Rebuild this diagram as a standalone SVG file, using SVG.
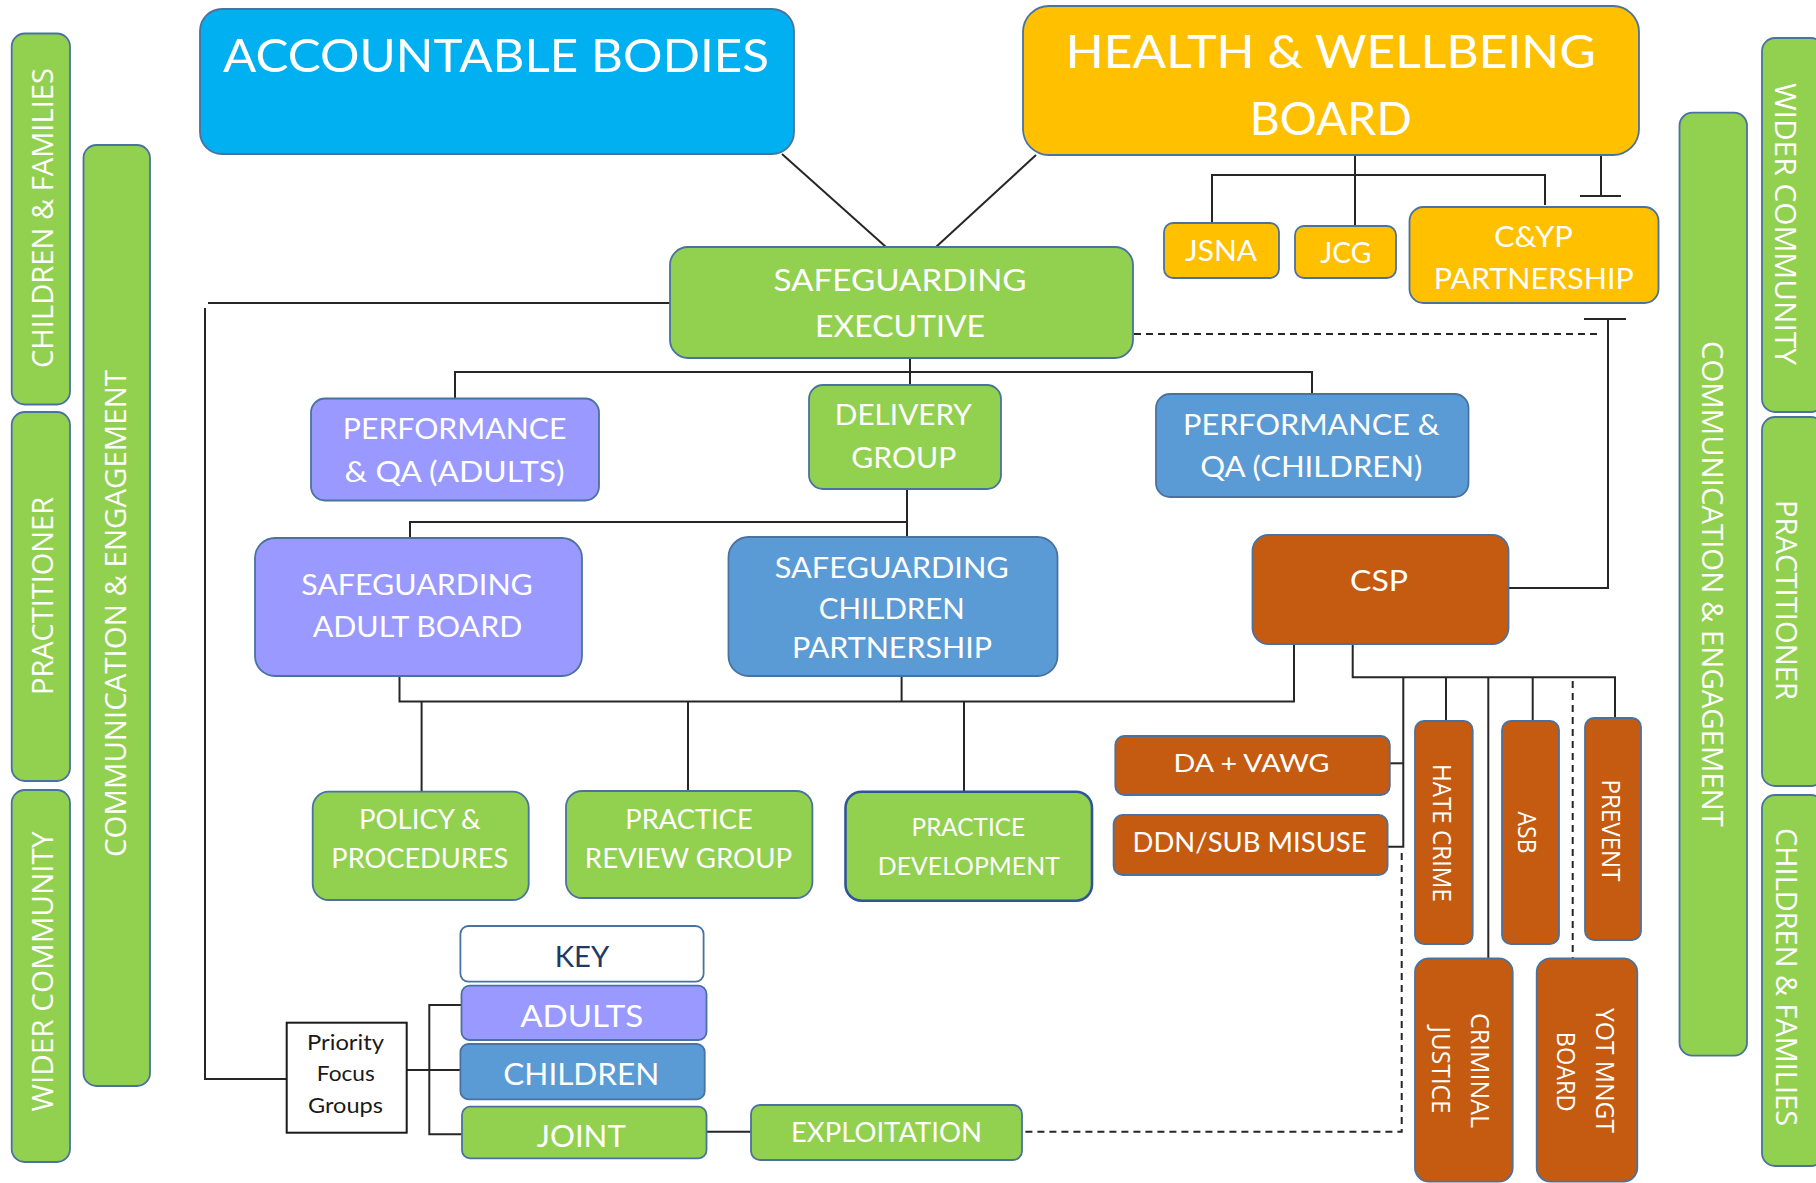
<svg xmlns="http://www.w3.org/2000/svg" width="1816" height="1183" viewBox="0 0 1816 1183">
<defs>
<style>
.box{stroke:#4a72a0;stroke-width:1.8}
.g{fill:#92D050}
.b{fill:#5B9BD5}
.p{fill:#9999FF}
.o{fill:#C55A11}
.y{fill:#FFC000}
.c{fill:#00B0F0}
.w{fill:#FFFFFF}
.t{font-family:Lato,"Liberation Sans",sans-serif;fill:#FFFFFF;text-anchor:middle}
.v{font-family:"Open Sans","DejaVu Sans",sans-serif;fill:#FFFFFF;text-anchor:middle}
.ln{stroke:#262626;stroke-width:2;fill:none}
.dash{stroke-dasharray:7 5}
</style>
</defs>
<rect width="1816" height="1183" fill="#FFFFFF"/>

<g id="connectors">
  <line class="ln" x1="782" y1="154" x2="886" y2="247"/>
  <line class="ln" x1="1036" y1="155" x2="936" y2="247"/>
  <line class="ln" x1="1355" y1="155" x2="1355" y2="226"/>
  <polyline class="ln" points="1212,223 1212,175 1545,175 1545,205"/>
  <line class="ln" x1="1601" y1="156" x2="1601" y2="196"/>
  <line class="ln" x1="1580" y1="196" x2="1621" y2="196"/>
  <line class="ln" x1="1584" y1="319" x2="1626" y2="319"/>
  <polyline class="ln" points="1608,319 1608,588 1509,588"/>
  <line class="ln dash" x1="1134" y1="334" x2="1598" y2="334"/>
  <line class="ln" x1="670" y1="303" x2="208" y2="303"/>
  <polyline class="ln" points="205,308 205,1079 287,1079"/>
  <line class="ln" x1="910" y1="358" x2="910" y2="385"/>
  <polyline class="ln" points="455,399 455,372 1312,372 1312,394"/>
  <line class="ln" x1="907" y1="489" x2="907" y2="537"/>
  <polyline class="ln" points="410,538 410,522 907,522"/>
  <polyline class="ln" points="399.5,676 399.5,701.5 1294,701.5 1294,644"/>
  <line class="ln" x1="901.6" y1="676" x2="901.6" y2="701.5"/>
  <line class="ln" x1="421.6" y1="701.5" x2="421.6" y2="792"/>
  <line class="ln" x1="688" y1="701.5" x2="688" y2="791"/>
  <line class="ln" x1="964" y1="701.5" x2="964" y2="792"/>
  <polyline class="ln" points="1352.7,644 1352.7,677.3 1615,677.3 1615,719"/>
  <polyline class="ln" points="1403.3,677.3 1403.3,846.7 1388,846.7"/>
  <line class="ln" x1="1390" y1="763.3" x2="1403.3" y2="763.3"/>
  <line class="ln" x1="1446" y1="677.3" x2="1446" y2="721"/>
  <line class="ln" x1="1488.3" y1="677.3" x2="1488.3" y2="958.3"/>
  <line class="ln" x1="1532.7" y1="677.3" x2="1532.7" y2="721"/>
  <line class="ln dash" x1="1572.7" y1="681" x2="1572.7" y2="958.3"/>
  <polyline class="ln dash" points="1401.7,853 1401.7,1131.7 1022,1131.7"/>
  <line class="ln" x1="406.7" y1="1070" x2="460" y2="1070"/>
  <polyline class="ln" points="461.5,1005 429.3,1005 429.3,1134.3 462,1134.3"/>
  <line class="ln" x1="706.5" y1="1131.7" x2="751" y2="1131.7"/>
</g>

<g id="bar-left-children-families">
  <rect class="box g" x="11.7" y="33.5" width="58.3" height="371" rx="13"/>
  <text class="v" font-size="29" textLength="300" lengthAdjust="spacingAndGlyphs" transform="translate(53.3,218) rotate(-90)">CHILDREN &amp; FAMILIES</text>
</g>
<g id="bar-left-practitioner">
  <rect class="box g" x="11.7" y="412" width="58.3" height="369" rx="13"/>
  <text class="v" font-size="29" textLength="198" lengthAdjust="spacingAndGlyphs" transform="translate(53.3,596) rotate(-90)">PRACTITIONER</text>
</g>
<g id="bar-left-wider-community">
  <rect class="box g" x="11.7" y="790" width="58.3" height="372" rx="13"/>
  <text class="v" font-size="29" textLength="280" lengthAdjust="spacingAndGlyphs" transform="translate(53.3,971.5) rotate(-90)">WIDER COMMUNITY</text>
</g>
<g id="bar-left-communication">
  <rect class="box g" x="83.5" y="145" width="66.5" height="941" rx="13"/>
  <text class="v" font-size="29" textLength="487" lengthAdjust="spacingAndGlyphs" transform="translate(126,613.5) rotate(-90)">COMMUNICATION &amp; ENGAGEMENT</text>
</g>
<g id="bar-right-communication">
  <rect class="box g" x="1679.5" y="112.7" width="67.5" height="943" rx="13"/>
  <text class="v" font-size="29" textLength="486" lengthAdjust="spacingAndGlyphs" transform="translate(1701.7,584) rotate(90)">COMMUNICATION &amp; ENGAGEMENT</text>
</g>
<g id="bar-right-wider-community">
  <rect class="box g" x="1762" y="38" width="62" height="374" rx="13"/>
  <text class="v" font-size="29" textLength="282" lengthAdjust="spacingAndGlyphs" transform="translate(1775,224) rotate(90)">WIDER COMMUNITY</text>
</g>
<g id="bar-right-practitioner">
  <rect class="box g" x="1762" y="417" width="62" height="369" rx="13"/>
  <text class="v" font-size="29" textLength="200" lengthAdjust="spacingAndGlyphs" transform="translate(1776,600) rotate(90)">PRACTITIONER</text>
</g>
<g id="bar-right-children-families">
  <rect class="box g" x="1762" y="795" width="62" height="371" rx="13"/>
  <text class="v" font-size="29" textLength="298" lengthAdjust="spacingAndGlyphs" transform="translate(1776,977) rotate(90)">CHILDREN &amp; FAMILIES</text>
</g>

<g id="accountable-bodies">
  <rect class="box c" x="200" y="9" width="594" height="145" rx="22"/>
  <text class="t" x="496" y="72" font-size="47" textLength="546" lengthAdjust="spacingAndGlyphs">ACCOUNTABLE BODIES</text>
</g>
<g id="health-wellbeing-board">
  <rect class="box y" x="1023" y="6" width="616" height="149" rx="26"/>
  <text class="t" x="1330.8" y="68" font-size="46" textLength="530" lengthAdjust="spacingAndGlyphs">HEALTH &amp; WELLBEING</text>
  <text class="t" x="1330.7" y="135" font-size="46" textLength="162" lengthAdjust="spacingAndGlyphs">BOARD</text>
</g>
<g id="jsna">
  <rect class="box y" x="1164" y="223" width="115" height="55" rx="9"/>
  <text class="t" x="1221" y="261" font-size="28" textLength="72" lengthAdjust="spacingAndGlyphs">JSNA</text>
</g>
<g id="jcg">
  <rect class="box y" x="1295" y="226" width="101" height="52" rx="9"/>
  <text class="t" x="1345.8" y="263" font-size="28" textLength="51" lengthAdjust="spacingAndGlyphs">JCG</text>
</g>
<g id="cyp-partnership">
  <rect class="box y" x="1409.5" y="207" width="249" height="96" rx="14"/>
  <text class="t" x="1533.4" y="247" font-size="28" textLength="79" lengthAdjust="spacingAndGlyphs">C&amp;YP</text>
  <text class="t" x="1533.7" y="289" font-size="28" textLength="200" lengthAdjust="spacingAndGlyphs">PARTNERSHIP</text>
</g>
<g id="safeguarding-executive">
  <rect class="box g" x="670" y="247" width="463" height="111" rx="18"/>
  <text class="t" x="900" y="290.7" font-size="30" textLength="253" lengthAdjust="spacingAndGlyphs">SAFEGUARDING</text>
  <text class="t" x="900" y="336.7" font-size="30" textLength="170" lengthAdjust="spacingAndGlyphs">EXECUTIVE</text>
</g>
<g id="performance-qa-adults">
  <rect class="box p" x="311" y="398.5" width="288" height="102" rx="14"/>
  <text class="t" x="454.6" y="439" font-size="29" textLength="223.5" lengthAdjust="spacingAndGlyphs">PERFORMANCE</text>
  <text class="t" x="454.6" y="482" font-size="29" textLength="220" lengthAdjust="spacingAndGlyphs">&amp; QA (ADULTS)</text>
</g>
<g id="delivery-group">
  <rect class="box g" x="809" y="385" width="192" height="104" rx="14"/>
  <text class="t" x="903.3" y="425" font-size="28.5" textLength="137" lengthAdjust="spacingAndGlyphs">DELIVERY</text>
  <text class="t" x="903.8" y="468" font-size="28.5" textLength="105" lengthAdjust="spacingAndGlyphs">GROUP</text>
</g>
<g id="performance-qa-children">
  <rect class="box b" x="1156" y="394" width="312.5" height="103" rx="14"/>
  <text class="t" x="1311.3" y="435" font-size="29" textLength="256.5" lengthAdjust="spacingAndGlyphs">PERFORMANCE &amp;</text>
  <text class="t" x="1311.3" y="477" font-size="29" textLength="222" lengthAdjust="spacingAndGlyphs">QA (CHILDREN)</text>
</g>
<g id="safeguarding-adult-board">
  <rect class="box p" x="255" y="538" width="327" height="138" rx="20"/>
  <text class="t" x="417" y="595" font-size="29" textLength="231.6" lengthAdjust="spacingAndGlyphs">SAFEGUARDING</text>
  <text class="t" x="417.5" y="637" font-size="29" textLength="209.6" lengthAdjust="spacingAndGlyphs">ADULT BOARD</text>
</g>
<g id="safeguarding-children-partnership">
  <rect class="box b" x="728.5" y="537" width="329" height="139" rx="20"/>
  <text class="t" x="891.8" y="578" font-size="29" textLength="234" lengthAdjust="spacingAndGlyphs">SAFEGUARDING</text>
  <text class="t" x="891.8" y="619" font-size="29" textLength="146" lengthAdjust="spacingAndGlyphs">CHILDREN</text>
  <text class="t" x="892" y="658" font-size="29" textLength="200" lengthAdjust="spacingAndGlyphs">PARTNERSHIP</text>
</g>
<g id="csp">
  <rect class="box o" x="1252.5" y="535" width="256" height="109" rx="16"/>
  <text class="t" x="1379" y="591" font-size="29" textLength="58" lengthAdjust="spacingAndGlyphs">CSP</text>
</g>
<g id="policy-procedures">
  <rect class="box g" x="312.7" y="791.7" width="216" height="108.3" rx="16"/>
  <text class="t" x="419.8" y="829" font-size="26" textLength="121.6" lengthAdjust="spacingAndGlyphs">POLICY &amp;</text>
  <text class="t" x="419.8" y="868" font-size="26" textLength="177" lengthAdjust="spacingAndGlyphs">PROCEDURES</text>
</g>
<g id="practice-review-group">
  <rect class="box g" x="566" y="791" width="246.4" height="107" rx="16"/>
  <text class="t" x="689" y="829" font-size="26" textLength="127.4" lengthAdjust="spacingAndGlyphs">PRACTICE</text>
  <text class="t" x="688.5" y="868" font-size="26" textLength="207.3" lengthAdjust="spacingAndGlyphs">REVIEW GROUP</text>
</g>
<g id="practice-development">
  <rect class="g" x="845.5" y="791.7" width="246.5" height="109" rx="16" stroke="#2F5597" stroke-width="2.6"/>
  <text class="t" x="968.3" y="836" font-size="25" textLength="113.5" lengthAdjust="spacingAndGlyphs">PRACTICE</text>
  <text class="t" x="968.8" y="875" font-size="25" textLength="182" lengthAdjust="spacingAndGlyphs">DEVELOPMENT</text>
</g>
<g id="da-vawg">
  <rect class="box o" x="1115.3" y="736" width="274.5" height="59" rx="9"/>
  <text class="t" x="1251.5" y="772" font-size="25" textLength="156" lengthAdjust="spacingAndGlyphs">DA + VAWG</text>
</g>
<g id="ddn-sub-misuse">
  <rect class="box o" x="1113.6" y="815" width="274" height="60" rx="9"/>
  <text class="t" x="1249.6" y="852" font-size="26" textLength="234" lengthAdjust="spacingAndGlyphs">DDN/SUB MISUSE</text>
</g>
<g id="hate-crime">
  <rect class="box o" x="1415" y="721" width="57.7" height="223" rx="9"/>
  <text class="v" font-size="25" textLength="138" lengthAdjust="spacingAndGlyphs" transform="translate(1432.7,833) rotate(90)">HATE CRIME</text>
</g>
<g id="asb">
  <rect class="box o" x="1502" y="721" width="57" height="223" rx="9"/>
  <text class="v" font-size="25" textLength="42" lengthAdjust="spacingAndGlyphs" transform="translate(1518.3,832.5) rotate(90)">ASB</text>
</g>
<g id="prevent">
  <rect class="box o" x="1585" y="718" width="56" height="222" rx="9"/>
  <text class="v" font-size="25" textLength="102" lengthAdjust="spacingAndGlyphs" transform="translate(1601.7,830.5) rotate(90)">PREVENT</text>
</g>
<g id="criminal-justice">
  <rect class="box o" x="1415" y="958.3" width="97.7" height="223.4" rx="14"/>
  <text class="v" font-size="25" textLength="115" lengthAdjust="spacingAndGlyphs" transform="translate(1470.7,1070.5) rotate(90)">CRIMINAL</text>
  <text class="v" font-size="25" textLength="87" lengthAdjust="spacingAndGlyphs" transform="translate(1431.7,1070) rotate(90)">JUSTICE</text>
</g>
<g id="yot-mngt-board">
  <rect class="box o" x="1536.7" y="958.3" width="100.6" height="223.4" rx="14"/>
  <text class="v" font-size="25" textLength="125" lengthAdjust="spacingAndGlyphs" transform="translate(1596,1070.5) rotate(90)">YOT MNGT</text>
  <text class="v" font-size="25" textLength="80" lengthAdjust="spacingAndGlyphs" transform="translate(1556.7,1071.7) rotate(90)">BOARD</text>
</g>
<g id="key">
  <rect class="box w" x="460.4" y="926" width="243.2" height="55.7" rx="8"/>
  <text class="t" x="582" y="967" font-size="29" textLength="54.5" lengthAdjust="spacingAndGlyphs" style="fill:#1F3864">KEY</text>
</g>
<g id="key-adults">
  <rect class="box p" x="461.5" y="985.7" width="245" height="54.3" rx="8"/>
  <text class="t" x="581.7" y="1026.7" font-size="30" textLength="123" lengthAdjust="spacingAndGlyphs">ADULTS</text>
</g>
<g id="key-children">
  <rect class="box b" x="460.4" y="1044" width="244.3" height="55.3" rx="8"/>
  <text class="t" x="581.3" y="1085" font-size="30" textLength="156" lengthAdjust="spacingAndGlyphs">CHILDREN</text>
</g>
<g id="key-joint">
  <rect class="box g" x="462" y="1106.7" width="244.5" height="51.6" rx="8"/>
  <text class="t" x="581.3" y="1146.7" font-size="30" textLength="89" lengthAdjust="spacingAndGlyphs">JOINT</text>
</g>
<g id="exploitation">
  <rect class="box g" x="751" y="1105" width="271" height="55" rx="9"/>
  <text class="t" x="886.5" y="1142" font-size="26" textLength="191" lengthAdjust="spacingAndGlyphs">EXPLOITATION</text>
</g>
<g id="priority-focus-groups">
  <rect x="286.7" y="1022.7" width="120" height="110" fill="#FFFFFF" stroke="#1a1a1a" stroke-width="2"/>
  <text class="t" x="345.5" y="1050" font-size="21" textLength="77" lengthAdjust="spacingAndGlyphs" style="fill:#1a1a1a">Priority</text>
  <text class="t" x="345.8" y="1081" font-size="21" textLength="58" lengthAdjust="spacingAndGlyphs" style="fill:#1a1a1a">Focus</text>
  <text class="t" x="345.5" y="1113" font-size="21" textLength="75" lengthAdjust="spacingAndGlyphs" style="fill:#1a1a1a">Groups</text>
</g>
</svg>
